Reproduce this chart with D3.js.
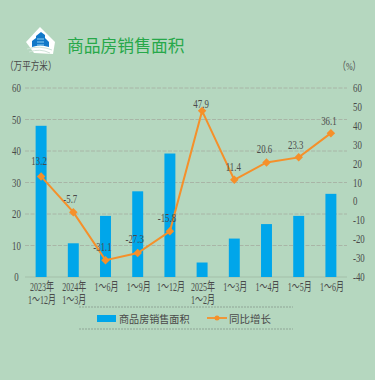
<!DOCTYPE html>
<html><head><meta charset="utf-8">
<script src="https://cdn.jsdelivr.net/npm/d3@7/dist/d3.min.js"></script>
<style>html,body{margin:0;padding:0;background:#b5d7bf;overflow:hidden}svg{display:block}</style>
</head><body><div id="c"></div>
<script>
const categories=["2023年|1～12月","2024年|1～3月","1～6月","1～9月","1～12月","2025年|1～2月","1～3月","1～4月","1～5月","1～6月"];
const areaValues=[48,10.7,19.4,27.2,39.2,4.6,12.2,16.8,19.4,26.4];
const growthValues=[13.2,-5.7,-31.1,-27.3,-15.8,47.9,11.4,20.6,23.3,36.1];
const growthLabels=["13.2","-5.7","-31.1","-27.3","-15.8","47.9","11.4","20.6","23.3","36.1"];
const leftTicks=[0,10,20,30,40,50,60];
const rightTicks=[-40,-30,-20,-10,0,10,20,30,40,50,60];
const title="商品房销售面积";
const legendNames=["商品房销售面积","同比增长"];
const labelDy=[-11,-9,-9,-10,-9,-3,-9,-9.5,-8,-8];
const labelDx=[-2,-3,-3,-3,-3,-1,-1,-2,-3,-2];

const W=375,H=380,bg="#b5d7bf",txt="#4a4a4a",font="'Liberation Serif','Noto Sans CJK SC',serif";
const svg=d3.select("#c").append("svg").attr("width",W).attr("height",H);
svg.append("rect").attr("width",W).attr("height",H).attr("fill",bg);
const x=d3.scaleBand().domain(d3.range(categories.length)).range([25,347]).paddingInner(0.66).paddingOuter(0.33);
const yL=d3.scaleLinear().domain([0,60]).range([277,88]);
const yR=d3.scaleLinear().domain([-40,60]).range([277,88]);
const cx=i=>x(i)+x.bandwidth()/2;
function label(sel,px,py,t,anchor,size,sx,fill){
  return sel.append("text").attr("transform",`translate(${px},${py}) scale(${sx},1)`)
   .attr("text-anchor",anchor).attr("font-family",font).attr("font-size",size).attr("fill",fill||txt).text(t);
}
// logo
const logo=svg.append("g");
logo.append("path").attr("d","M40 27L55 42L53 54L34 53L26 42Z").attr("fill","#fff");
logo.append("path").attr("d","M32 47V41L36 38V36L41 32L45 35V38L49 42V47Q40 44 32 47Z").attr("fill","#1278c8");
logo.append("path").attr("d","M37 39H44M37 42H44M37 45H44").attr("stroke","#8fd0f2").attr("stroke-width",1).attr("fill","none");
logo.append("path").attr("d","M27 49Q40 45 52 50M29 52Q40 48 50 53").attr("stroke","#cfe3d8").attr("stroke-width",1).attr("fill","none");
// title
svg.append("text").attr("x",67).attr("y",52).attr("font-family","'Noto Sans CJK SC',sans-serif").attr("font-size",16.8).attr("fill","#27a84a").text(title);
label(svg,5,70,"（万平方米）","start",11,0.78);
label(svg,338,70,"（%）","start",11,0.72);
// grid
svg.append("g").selectAll("line").data(leftTicks.slice(1)).join("line")
 .attr("x1",25).attr("x2",347).attr("y1",d=>yL(d)).attr("y2",d=>yL(d))
 .attr("stroke","#a8b5a6").attr("stroke-width",1).attr("stroke-dasharray","4 1.5");
// axes (library-built, restyled)
const gx=svg.append("g").attr("transform","translate(0,277)").call(d3.axisBottom(x).tickSize(0).tickFormat(""));
gx.select(".domain").attr("stroke","#a3bfa9").attr("stroke-width",1).attr("d","M25,0H347");
const gL=svg.append("g").attr("transform","translate(25,0)").call(d3.axisLeft(yL).tickValues(leftTicks).tickSize(0).tickFormat(""));
gL.select(".domain").remove();
const gR=svg.append("g").attr("transform","translate(347,0)").call(d3.axisRight(yR).tickValues(rightTicks).tickSize(0).tickFormat(""));
gR.select(".domain").remove();
const sxNum=0.68,fsNum=13;
leftTicks.forEach(d=>label(svg,16.5,yL(d)+4,String(d),"middle",fsNum,sxNum));
rightTicks.forEach(d=>label(svg,353,yR(d)+4,String(d),"start",fsNum,sxNum));
// bars
svg.append("g").selectAll("rect").data(areaValues).join("rect")
 .attr("x",(d,i)=>x(i)).attr("width",x.bandwidth()).attr("y",d=>yL(d)).attr("height",d=>yL(0)-yL(d)).attr("fill","#00a6ea");
// line
const lineGen=d3.line().x((d,i)=>cx(i)).y(d=>yR(d));
svg.append("path").datum(growthValues).attr("d",lineGen).attr("fill","none").attr("stroke","#f5902a").attr("stroke-width",2);
svg.append("g").selectAll("path").data(growthValues).join("path")
 .attr("d",d3.symbol(d3.symbolSquare,36)())
 .attr("transform",(d,i)=>`translate(${cx(i)},${yR(d)}) rotate(45)`).attr("fill","#f5902a");
// value labels
growthValues.forEach((d,i)=>label(svg,cx(i)+labelDx[i],yR(d)+labelDy[i],growthLabels[i],"middle",fsNum,sxNum));
// category labels
categories.forEach((c,i)=>c.split("|").forEach((t,j)=>label(svg,cx(i)+1,290.5+j*13.5,t,"middle",12.5,0.64)));
// legend
[307,329].forEach(y=>svg.append("line").attr("x1",79).attr("x2",293).attr("y1",y).attr("y2",y).attr("stroke","#8fa596").attr("stroke-width",1).attr("stroke-dasharray","2 1"));
svg.append("rect").attr("x",97).attr("y",315).attr("width",19).attr("height",7).attr("fill","#00a6ea");
label(svg,119,323,legendNames[0],"start",10.5,0.96);
svg.append("line").attr("x1",207).attr("x2",227).attr("y1",318).attr("y2",318).attr("stroke","#f5902a").attr("stroke-width",1.8);
svg.append("circle").attr("cx",217).attr("cy",318).attr("r",2.5).attr("fill","#f5902a");
label(svg,229,323,legendNames[1],"start",10.5,1);
</script></body></html>
